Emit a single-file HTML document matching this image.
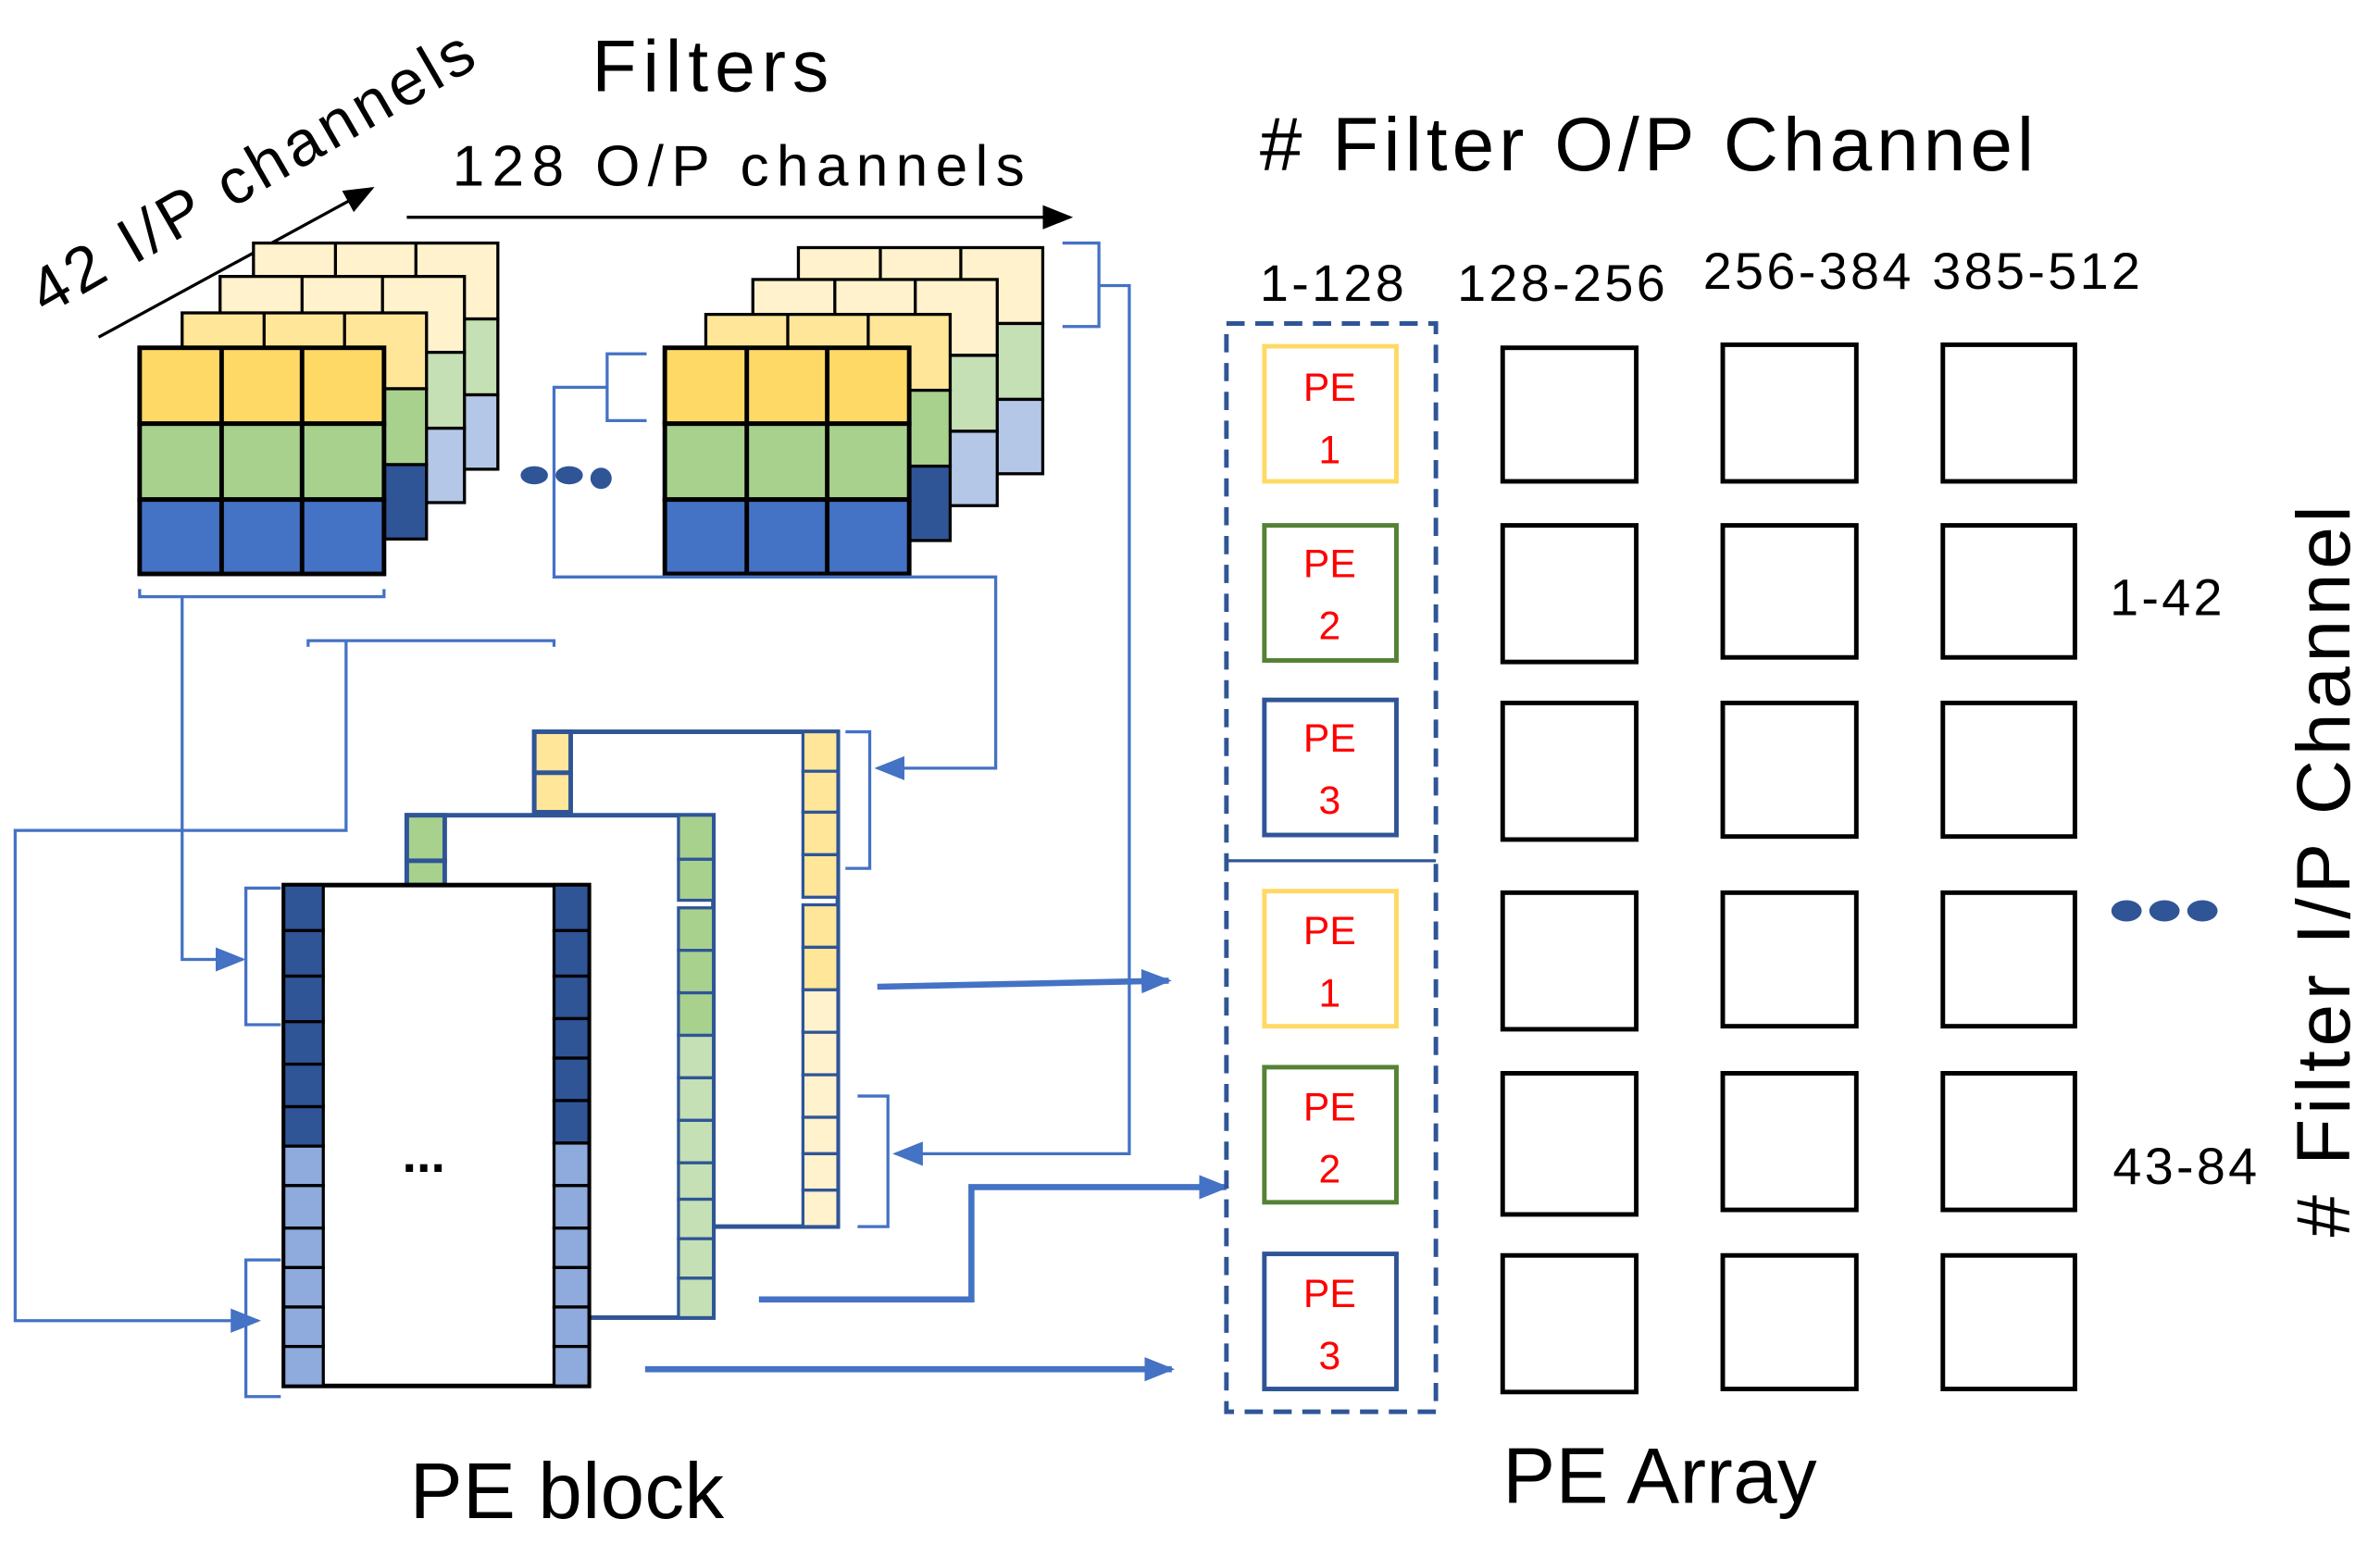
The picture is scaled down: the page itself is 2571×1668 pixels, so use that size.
<!DOCTYPE html>
<html><head><meta charset="utf-8"><style>
html,body{margin:0;padding:0;background:#fff;}
svg{display:block;}
text{font-family:"Liberation Sans",sans-serif;}
</style></head><body>
<svg width="2571" height="1668" viewBox="0 0 1568 1017" xmlns="http://www.w3.org/2000/svg">
<defs>
<marker id="ab" markerWidth="20" markerHeight="16" refX="18" refY="8" orient="auto" markerUnits="userSpaceOnUse"><path d="M0,0 L20,8 L0,16 z" fill="#000"/></marker>
<marker id="abl" markerWidth="20" markerHeight="16" refX="18" refY="8" orient="auto" markerUnits="userSpaceOnUse"><path d="M0,0 L20,8 L0,16 z" fill="#4472C4"/></marker>
<g id="layerBack">
<rect x="0" y="0" width="161" height="50" fill="#FFF2CC" stroke="#000" stroke-width="2"/>
<rect x="0" y="50" width="161" height="50" fill="#C5E0B4" stroke="#000" stroke-width="2"/>
<rect x="0" y="100" width="161" height="49" fill="#B4C7E7" stroke="#000" stroke-width="2"/>
<line x1="54" y1="0" x2="54" y2="149" stroke="#000" stroke-width="2"/>
<line x1="107" y1="0" x2="107" y2="149" stroke="#000" stroke-width="2"/>
</g>
<g id="layerMid">
<rect x="0" y="0" width="161" height="50" fill="#FFE699" stroke="#000" stroke-width="2"/>
<rect x="0" y="50" width="161" height="50" fill="#A9D18E" stroke="#000" stroke-width="2"/>
<rect x="0" y="100" width="161" height="49" fill="#2F5597" stroke="#000" stroke-width="2"/>
<line x1="54" y1="0" x2="54" y2="149" stroke="#000" stroke-width="2"/>
<line x1="107" y1="0" x2="107" y2="149" stroke="#000" stroke-width="2"/>
</g>
<g id="layerFront">
<rect x="0" y="0" width="161" height="50" fill="#FFD966" stroke="#000" stroke-width="3"/>
<rect x="0" y="50" width="161" height="50" fill="#A9D18E" stroke="#000" stroke-width="3"/>
<rect x="0" y="100" width="161" height="49" fill="#4472C4" stroke="#000" stroke-width="3"/>
<line x1="54" y1="0" x2="54" y2="149" stroke="#000" stroke-width="3"/>
<line x1="107" y1="0" x2="107" y2="149" stroke="#000" stroke-width="3"/>
</g>
</defs>

<text x="390" y="60" font-size="48" textLength="156">Filters</text>
<text x="298" y="122" font-size="38" textLength="377">128 O/P channels</text>
<line x1="268" y1="143" x2="705" y2="143" stroke="#000" stroke-width="2" marker-end="url(#ab)"/>
<text font-size="42" transform="translate(30,208) rotate(-30)" textLength="330">42 I/P channels</text>
<line x1="65" y1="222" x2="245" y2="124" stroke="#000" stroke-width="2" marker-end="url(#ab)"/>

<use href="#layerBack" x="167" y="160"/>
<use href="#layerBack" x="145" y="182"/>
<use href="#layerMid" x="120" y="206"/>
<use href="#layerFront" x="92" y="229"/>
<use href="#layerBack" x="526" y="163"/>
<use href="#layerBack" x="496" y="184"/>
<use href="#layerMid" x="465" y="207"/>
<use href="#layerFront" x="438" y="229"/>

<ellipse cx="352" cy="313" rx="9" ry="6" fill="#2F5597"/>
<ellipse cx="375" cy="313" rx="9" ry="6" fill="#2F5597"/>
<ellipse cx="396" cy="315" rx="7" ry="7" fill="#2F5597"/>

<g stroke="#4472C4" stroke-width="2" fill="none">
<path d="M426,233 H400 V277 H426 M400,255 H365 V380 H656 V506 H578" marker-end="url(#abl)"/>
<path d="M700,160 H724 V215 H700 M724,188 H744 V760 H590" marker-end="url(#abl)"/>
<path d="M92,388 V393 H253 V388 M120,393 V632 H160" marker-end="url(#abl)"/>
<path d="M203,426 V422 H365 V426 M228,422 V547 H10 V870 H170" marker-end="url(#abl)"/>
<path d="M185,585 H162 V675 H185"/>
<path d="M185,830 H162 V920 H185"/>
<path d="M557,482 H573 V572 H557"/>
<path d="M565,722 H585 V808 H565"/>
</g>
<g stroke="#4472C4" stroke-width="4" fill="none">
<path d="M578,650 L770,646" marker-end="url(#abl)"/>
<path d="M500,856 H640 V782 H808" marker-end="url(#abl)"/>
<path d="M425,902 H772" marker-end="url(#abl)"/>
</g>

<g stroke="#2F5597" stroke-width="3">
<rect x="352" y="482" width="200" height="326" fill="#fff"/>
<rect x="352" y="482" width="24" height="27" fill="#FFE699"/>
<rect x="352" y="509" width="24" height="26" fill="#FFE699"/>
</g>
<g stroke="#2F5597" stroke-width="2">
<rect x="529" y="482" width="23" height="26" fill="#FFE699"/><rect x="529" y="508" width="23" height="27" fill="#FFE699"/>
<rect x="529" y="535" width="23" height="28" fill="#FFE699"/><rect x="529" y="563" width="23" height="28" fill="#FFE699"/>
<rect x="529" y="596" width="23" height="28" fill="#FFE699"/><rect x="529" y="624" width="23" height="28" fill="#FFE699"/>
<rect x="529" y="652" width="23" height="28" fill="#FFF2CC"/><rect x="529" y="680" width="23" height="28" fill="#FFF2CC"/>
<rect x="529" y="708" width="23" height="28" fill="#FFF2CC"/><rect x="529" y="736" width="23" height="24" fill="#FFF2CC"/>
<rect x="529" y="760" width="23" height="24" fill="#FFF2CC"/><rect x="529" y="784" width="23" height="24" fill="#FFF2CC"/>
</g>
<g stroke="#2F5597" stroke-width="3">
<rect x="268" y="537" width="202" height="331" fill="#fff"/>
<rect x="268" y="537" width="25" height="30" fill="#A9D18E"/>
<rect x="268" y="567" width="25" height="16" fill="#A9D18E"/>
</g>
<g stroke="#2F5597" stroke-width="2">
<rect x="447" y="537" width="23" height="29" fill="#A9D18E"/><rect x="447" y="566" width="23" height="27" fill="#A9D18E"/>
<rect x="447" y="598" width="23" height="28" fill="#A9D18E"/><rect x="447" y="626" width="23" height="28" fill="#A9D18E"/>
<rect x="447" y="654" width="23" height="28" fill="#A9D18E"/><rect x="447" y="682" width="23" height="28" fill="#C5E0B4"/>
<rect x="447" y="710" width="23" height="28" fill="#C5E0B4"/><rect x="447" y="738" width="23" height="28" fill="#C5E0B4"/>
<rect x="447" y="766" width="23" height="24" fill="#C5E0B4"/><rect x="447" y="790" width="23" height="26" fill="#C5E0B4"/>
<rect x="447" y="816" width="23" height="26" fill="#C5E0B4"/><rect x="447" y="842" width="23" height="26" fill="#C5E0B4"/>
</g>
<rect x="187" y="583" width="201" height="330" fill="#fff" stroke="#000" stroke-width="3"/>
<g stroke="#000" stroke-width="2">
<rect x="187" y="583" width="26" height="30" fill="#2F5597"/><rect x="187" y="613" width="26" height="30" fill="#2F5597"/>
<rect x="187" y="643" width="26" height="30" fill="#2F5597"/><rect x="187" y="673" width="26" height="28" fill="#2F5597"/>
<rect x="187" y="701" width="26" height="28" fill="#2F5597"/><rect x="187" y="729" width="26" height="26" fill="#2F5597"/>
<rect x="187" y="755" width="26" height="26" fill="#8FAADC"/><rect x="187" y="781" width="26" height="28" fill="#8FAADC"/>
<rect x="187" y="809" width="26" height="26" fill="#8FAADC"/><rect x="187" y="835" width="26" height="26" fill="#8FAADC"/>
<rect x="187" y="861" width="26" height="26" fill="#8FAADC"/><rect x="187" y="887" width="26" height="26" fill="#8FAADC"/>
<rect x="365" y="583" width="23" height="30" fill="#2F5597"/><rect x="365" y="613" width="23" height="30" fill="#2F5597"/>
<rect x="365" y="643" width="23" height="28" fill="#2F5597"/><rect x="365" y="671" width="23" height="26" fill="#2F5597"/>
<rect x="365" y="697" width="23" height="28" fill="#2F5597"/><rect x="365" y="725" width="23" height="28" fill="#2F5597"/>
<rect x="365" y="753" width="23" height="28" fill="#8FAADC"/><rect x="365" y="781" width="23" height="28" fill="#8FAADC"/>
<rect x="365" y="809" width="23" height="26" fill="#8FAADC"/><rect x="365" y="835" width="23" height="26" fill="#8FAADC"/>
<rect x="365" y="861" width="23" height="26" fill="#8FAADC"/><rect x="365" y="887" width="23" height="26" fill="#8FAADC"/>
</g>
<text x="265" y="772" font-size="34" font-weight="bold">...</text>
<text x="270" y="1000" font-size="52" textLength="207">PE block</text>

<text x="830" y="112" font-size="50" textLength="510">#  Filter O/P Channel</text>
<text x="830" y="198" font-size="34" textLength="95">1-128</text>
<text x="960" y="198" font-size="34" textLength="137">128-256</text>
<text x="1122" y="190" font-size="34" textLength="137">256-384</text>
<text x="1273" y="190" font-size="34" textLength="137">385-512</text>

<rect x="808" y="213" width="138" height="717" fill="none" stroke="#2F5597" stroke-width="3" stroke-dasharray="12,7"/>
<line x1="808" y1="567" x2="946" y2="567" stroke="#2F5597" stroke-width="2"/>
<g stroke-width="3" fill="#fff">
<rect x="833" y="228" width="87" height="89" stroke="#FFD966"/>
<rect x="833" y="346" width="87" height="89" stroke="#548235"/>
<rect x="833" y="461" width="87" height="89" stroke="#2F5597"/>
<rect x="833" y="587" width="87" height="89" stroke="#FFD966"/>
<rect x="833" y="703" width="87" height="89" stroke="#548235"/>
<rect x="833" y="826" width="87" height="89" stroke="#2F5597"/>
</g>
<g fill="#FF0000" font-size="26" text-anchor="middle">
<text x="876" y="264">PE</text><text x="876" y="305">1</text>
<text x="876" y="380">PE</text><text x="876" y="421">2</text>
<text x="876" y="495">PE</text><text x="876" y="536">3</text>
<text x="876" y="622">PE</text><text x="876" y="663">1</text>
<text x="876" y="738">PE</text><text x="876" y="779">2</text>
<text x="876" y="861">PE</text><text x="876" y="902">3</text>
</g>
<g stroke="#000" stroke-width="3" fill="#fff">
<rect x="990" y="229" width="88" height="88"/><rect x="1135" y="227" width="88" height="90"/><rect x="1280" y="227" width="87" height="90"/>
<rect x="990" y="346" width="88" height="90"/><rect x="1135" y="346" width="88" height="87"/><rect x="1280" y="346" width="87" height="87"/>
<rect x="990" y="463" width="88" height="90"/><rect x="1135" y="463" width="88" height="88"/><rect x="1280" y="463" width="87" height="88"/>
<rect x="990" y="588" width="88" height="90"/><rect x="1135" y="588" width="88" height="88"/><rect x="1280" y="588" width="87" height="88"/>
<rect x="990" y="707" width="88" height="93"/><rect x="1135" y="707" width="88" height="90"/><rect x="1280" y="707" width="87" height="90"/>
<rect x="990" y="827" width="88" height="90"/><rect x="1135" y="827" width="88" height="88"/><rect x="1280" y="827" width="87" height="88"/>
</g>
<text x="1390" y="405" font-size="34" textLength="74">1-42</text>
<text x="1392" y="780" font-size="34" textLength="95">43-84</text>
<ellipse cx="1401" cy="600" rx="10" ry="7" fill="#2F5597"/>
<ellipse cx="1426" cy="600" rx="10" ry="7" fill="#2F5597"/>
<ellipse cx="1451" cy="600" rx="10" ry="7" fill="#2F5597"/>
<text font-size="50" transform="translate(1548,815) rotate(-90)" textLength="482">#  Filter I/P Channel</text>
<text x="990" y="990" font-size="52" textLength="207">PE Array</text>
</svg>
</body></html>
